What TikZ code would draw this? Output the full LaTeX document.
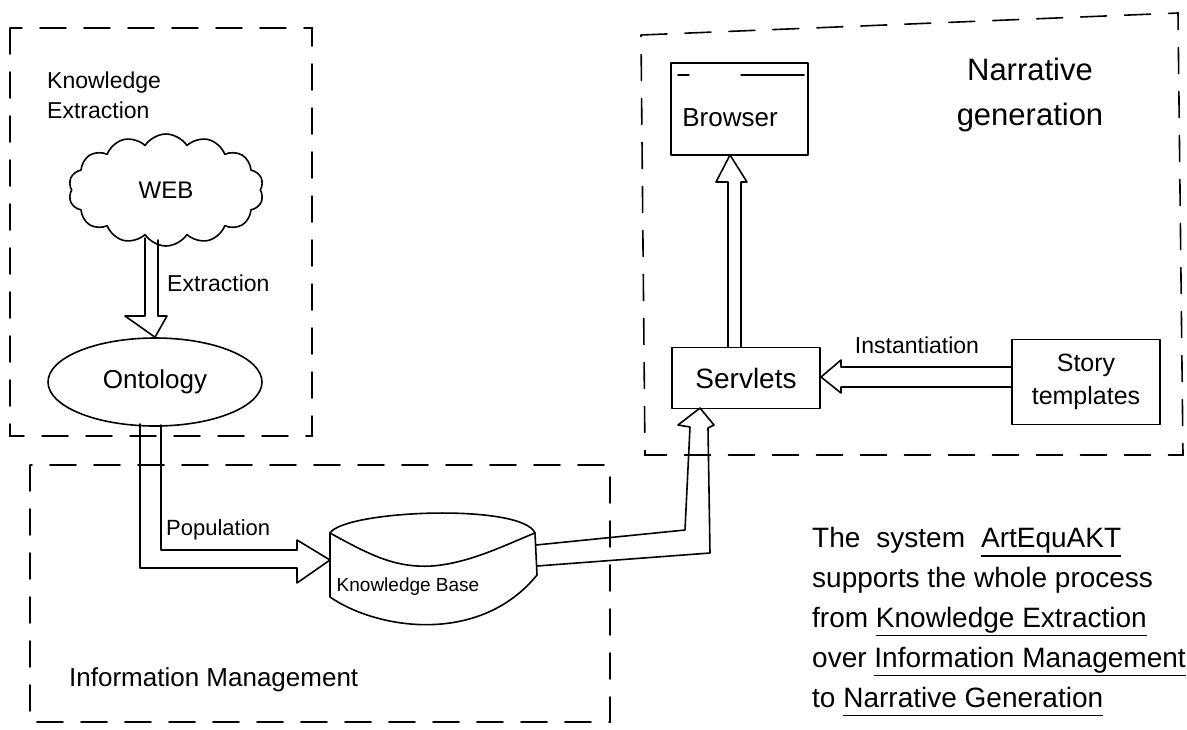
\documentclass[tikz,border=0pt]{standalone}
\usepackage{fontspec}
\setmainfont{Liberation Sans}
\usetikzlibrary{shapes.geometric,shapes.symbols,calc}
\newcommand\fsz[2]{\fontsize{#1}{#2}\selectfont}
\newcommand\hul[1]{\leavevmode\setbox0\hbox{#1}\rlap{\raisebox{-9pt}{\rule{\wd0}{1.5pt}}}\box0}
\begin{document}
\begin{tikzpicture}[x=1pt,y=-1pt,
  ink/.style={line width=1.6pt, line join=round, line cap=round, draw=black},
  dashbox/.style={line width=1.6pt, line cap=round, draw=black, dash pattern=on 26pt off 18pt},
  boxnode/.style={ink, rectangle, inner sep=0pt},
  lbl/.style={inner sep=0pt, text=black}
]
\useasboundingbox (0,0) rectangle (1187,729);
\clip (0,0) rectangle (1187,729);
\fill[white] (0,0) rectangle (1187,729);

% ---- dashed group boxes
\draw[dashbox] (10,28) rectangle (312,436);
\draw[dashbox] (30,465) rectangle (610,722);
\draw[dashbox] (641,35) -- (1178,13) -- (1183,455) -- (645,455) -- cycle;

% ---- group labels
\node[lbl, anchor=west, align=left, font=\fsz{23}{30}] (kelbl) at (47,95) {Knowledge\\Extraction};
\node[lbl, anchor=west, font=\fsz{26}{30}] (imlbl) at (69,680) {Information Management};
\node[lbl, align=center, font=\fsz{31}{45}] (nglbl) at (1030,95) {Narrative\\generation};

% ---- Knowledge extraction nodes
\node[ink, cloud, cloud puffs=14, cloud puff arc=115, cloud ignores aspect,
      minimum width=195, minimum height=112, inner sep=0pt, font=\fsz{24}{28}] (web) at (166,190) {WEB};
\node[ink, ellipse, minimum width=214, minimum height=88, inner sep=0pt, font=\fsz{26}{30}] (onto) at (155,382) {Ontology};
\node[lbl, anchor=west, font=\fsz{23}{28}] (extr) at (167,283) {Extraction};

% Extraction hollow arrow (web -> onto)
\draw[ink] (145,238) -- (145,316) -- (125,316) -- (onto.north) -- (167,316) -- (158,316) -- (158,240);

% ---- Knowledge base
\node[lbl, font=\fsz{19}{22}] (kb) at (408,587) {Knowledge Base};
\draw[ink] (330,533) .. controls (345,510) and (522,503) .. (535,533);
\draw[ink] (330,533) .. controls (370,555) and (395,568) .. (432,566) .. controls (470,563) and (505,545) .. (535,533);
\draw[ink] (330,533) -- (330,597) .. controls (378,630) and (480,645) .. (537,575) -- (535,533);
\coordinate (kbin) at (330,560);

% Population hollow arrow (onto -> kb)
\node[lbl, anchor=west, font=\fsz{22}{26}] (pop) at (166,530) {Population};
\draw[ink] (140,424) -- (140,568) -- (297,568) -- (297,583) -- (kbin) -- (297,540) -- (297,550) -- (161,550) -- (161,425);

% ---- Narrative generation nodes
\node[boxnode, minimum width=137, minimum height=92] (browser) at (739.5,109) {};
\node[lbl, font=\fsz{26}{30}] (browsertext) at (730,118) {Browser};
\draw[ink] (678,75) -- (689,75);
\draw[ink] (741,75) -- (804,75);

\node[boxnode, minimum width=148, minimum height=61, font=\fsz{28}{32}] (servlets) at (746,378) {\raisebox{-4pt}{Servlets}};
\node[boxnode, minimum width=148, minimum height=85, align=center, font=\fsz{25}{33}] (story) at (1086,382) {Story\\templates};
\node[lbl, font=\fsz{23}{26}] (inst) at (917,345) {Instantiation};

% Servlets -> Browser hollow arrow
\draw[ink] (728,347) -- (728,182) -- (716,182) -- (730,155) -- (747,182) -- (741,182) -- (741,347);

% Story templates -> Servlets hollow arrow
\draw[ink] (story.west |- 0,367) -- (841,367) -- (841,360) -- (821,377) -- (841,393) -- (841,387) -- (story.west |- 0,387);

% Knowledge base -> Servlets hollow arrow
\draw[ink] (536,545) -- (685,530) -- (690,427) -- (678,425) -- (700,408) -- (714,425) -- (708,428) -- (710,553) -- (537,566);

% ---- note text
\node[lbl, anchor=north west, align=left, font=\fsz{28}{40}] (note) at (812,527)
 {The\hspace{16pt}system\hspace{16pt}\hul{ArtEquAKT}\\
  supports the whole process\\
  from \hul{Knowledge Extraction}\\
  over \hul{Information Management}\\
  to \hul{Narrative Generation}};
\end{tikzpicture}
\end{document}
